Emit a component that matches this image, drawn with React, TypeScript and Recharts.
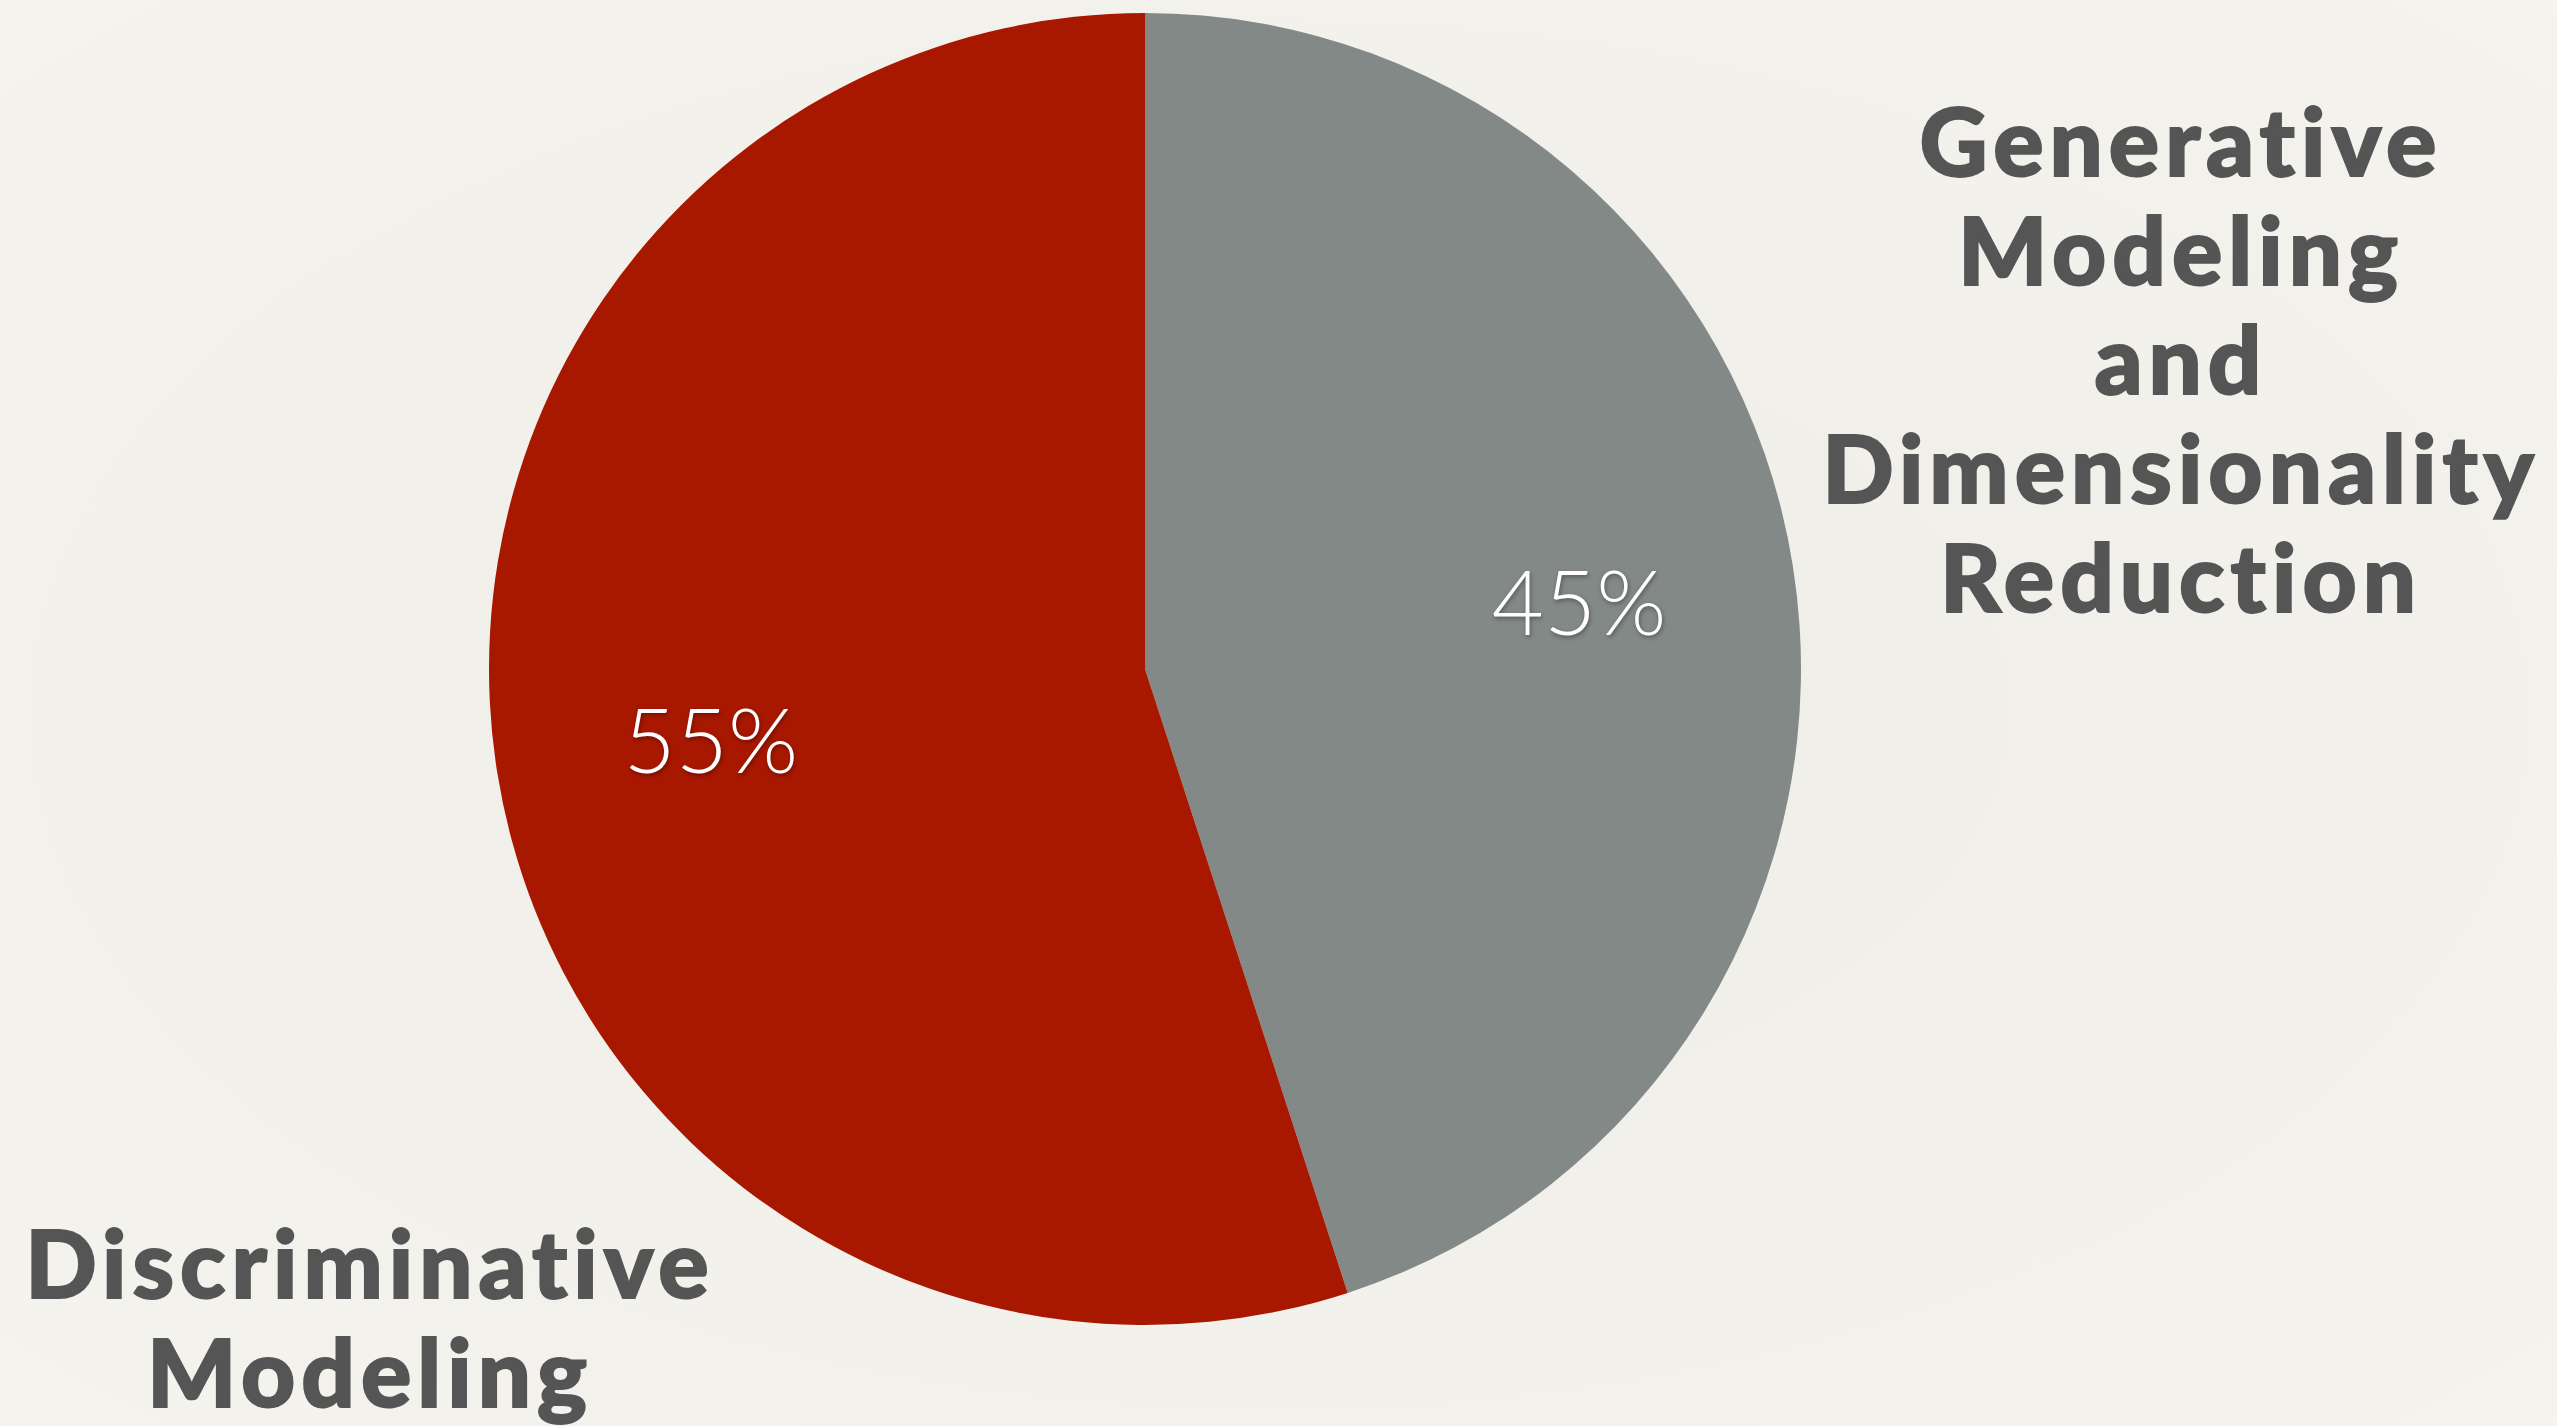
import { Cell, Pie, PieChart } from "recharts";

const categories = ["Generative Modeling and Dimensionality Reduction", "Discriminative Modeling"];
const shares = [45, 55];
const colors = ["#838986", "#a81800"];

const data = categories.map((name, i) => ({ name, value: shares[i] }));

const RAD = Math.PI / 180;

function PercentLabel(props: any) {
  const { cx, cy, midAngle, outerRadius, percent } = props;
  const r = outerRadius * 0.67;
  const x = cx + r * Math.cos(-midAngle * RAD);
  const y = cy + r * Math.sin(-midAngle * RAD);
  return (
    <text
      x={x}
      y={y}
      fill="#ffffff"
      textAnchor="middle"
      dominantBaseline="central"
      fontFamily="Lato, 'Open Sans', sans-serif"
      fontWeight={300}
      fontSize={90}
      style={{ filter: "drop-shadow(1px 2px 2px rgba(0,0,0,0.35))" }}
    >
      {`${Math.round(percent * 100)}%`}
    </text>
  );
}

const nameStyle: React.CSSProperties = {
  position: "absolute",
  transform: "translateX(-50%)",
  textAlign: "center",
  whiteSpace: "nowrap",
  fontFamily: "Lato, 'Open Sans', sans-serif",
  fontWeight: 900,
  fontSize: 94,
  letterSpacing: 6,
  paddingLeft: 6,
  lineHeight: "109px",
  color: "#555555",
  WebkitTextStroke: "2px #555555",
  fontVariantLigatures: "none",
  fontFeatureSettings: '"liga" 0, "clig" 0',
};

export default function App() {
  return (
    <div
      style={{
        position: "absolute",
        left: 0,
        top: 0,
        width: 2557,
        height: 1426,
        overflow: "hidden",
        background: "radial-gradient(ellipse at 50% 50%, #efede8 0%, #f3f1ec 70%, #f5f3ee 100%)",
      }}
    >
      <PieChart width={2557} height={1426} margin={{ top: 0, right: 0, bottom: 0, left: 0 }}>
        <Pie
          data={data}
          dataKey="value"
          nameKey="name"
          cx={1145}
          cy={669}
          outerRadius={656}
          startAngle={90}
          endAngle={-270}
          stroke="none"
          label={PercentLabel}
          labelLine={false}
          isAnimationActive={false}
        >
          {data.map((d, i) => (
            <Cell key={d.name} fill={colors[i]} />
          ))}
        </Pie>
      </PieChart>
      <div style={{ ...nameStyle, left: 2178, top: 85 }}>
        Generative
        <br />
        Modeling
        <br />
        and
        <br />
        Dimensionality
        <br />
        Reduction
      </div>
      <div style={{ ...nameStyle, left: 367, top: 1207 }}>
        Discriminative
        <br />
        Modeling
      </div>
    </div>
  );
}
